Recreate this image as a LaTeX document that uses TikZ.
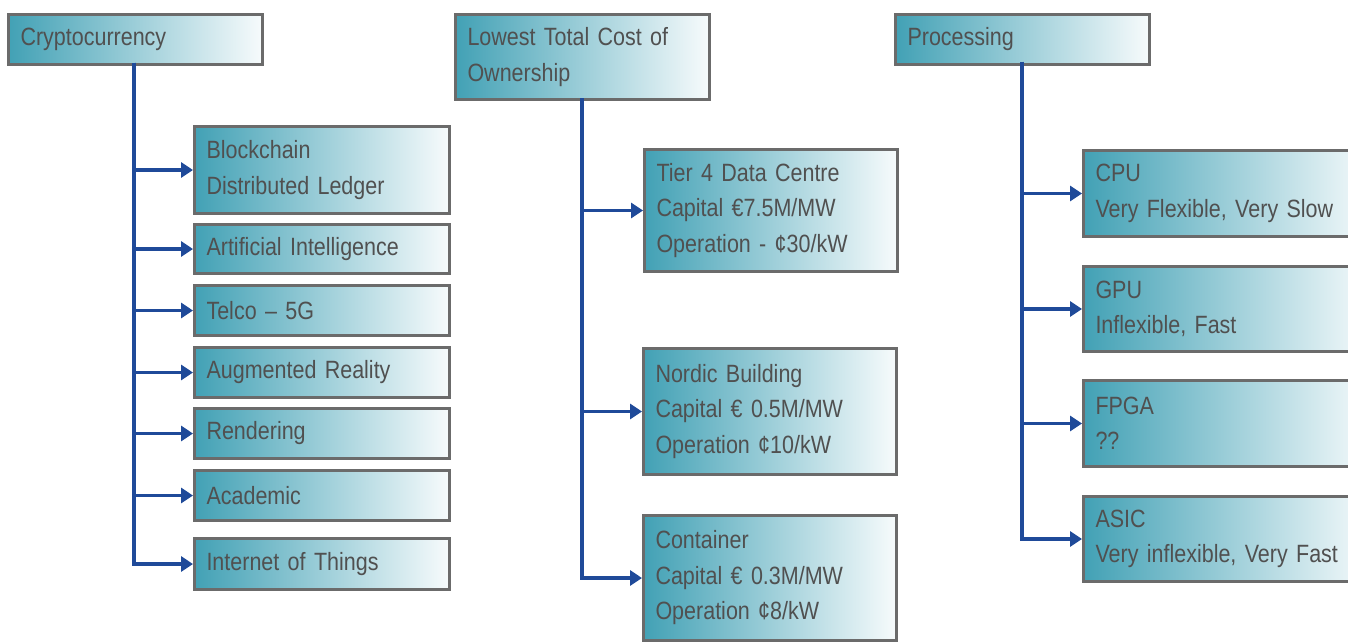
\documentclass[tikz,border=0pt]{standalone}
\usepackage{fontspec}
\setmainfont{Liberation Sans}[FakeStretch=0.86]
\usetikzlibrary{arrows.meta}
\definecolor{teal1}{HTML}{42A1B5}
\definecolor{light1}{HTML}{F7FBFC}
\definecolor{bord}{HTML}{6B6B6B}
\definecolor{txt}{HTML}{505050}
\definecolor{arrblue}{HTML}{1F4A99}
\begin{document}
\begin{tikzpicture}[x=1pt,y=-1pt,
  bx/.style={draw=bord, line width=3pt, left color=teal1, right color=light1,
    anchor=north west, inner xsep=12pt, inner ysep=0pt, align=left,
    text=txt, font=\fontsize{25}{35.5}\selectfont},
  arr/.style={draw=arrblue, line width=3.2pt,
    -{Triangle[length=12pt,width=15pt]}}]
\useasboundingbox (0,0) rectangle (1348,642);
\clip (0,0) rectangle (1348,642);
\fill[white] (0,0) rectangle (1348,642);
% column 1
\node[bx, minimum width=254pt, minimum height=50pt, text width=230pt] (crypto) at (7,13) {Cryptocurrency};
\node[bx, minimum width=255pt, minimum height=87pt, text width=231pt] (blk) at (193,125) {Blockchain\\Distributed Ledger};
\node[bx, minimum width=255pt, minimum height=49pt, text width=231pt] (ai) at (193,223) {Artificial Intelligence};
\node[bx, minimum width=255pt, minimum height=50pt, text width=231pt] (telco) at (193,284) {Telco – 5G};
\node[bx, minimum width=255pt, minimum height=50pt, text width=231pt] (ar) at (193,346) {Augmented Reality};
\node[bx, minimum width=255pt, minimum height=50pt, text width=231pt] (rend) at (193,407) {Rendering};
\node[bx, minimum width=255pt, minimum height=50pt, text width=231pt] (acad) at (193,469) {Academic};
\node[bx, minimum width=255pt, minimum height=51pt, text width=231pt] (iot) at (193,537) {Internet of Things};
% column 2
\node[bx, minimum width=254pt, minimum height=85pt, text width=230pt] (tco) at (454,13) {Lowest Total Cost of\\Ownership};
\node[bx, minimum width=253pt, minimum height=122pt, text width=229pt] (tier) at (643,148) {Tier 4 Data Centre\\Capital €7.5M/MW\\Operation - ¢30/kW};
\node[bx, minimum width=253pt, minimum height=126pt, text width=229pt] (nordic) at (642,347) {Nordic Building\\Capital € 0.5M/MW\\Operation ¢10/kW};
\node[bx, minimum width=253pt, minimum height=125pt, text width=229pt] (cont) at (642,514) {Container\\Capital € 0.3M/MW\\Operation ¢8/kW};
% column 3
\node[bx, minimum width=254pt, minimum height=50pt, text width=230pt] (proc) at (894,13) {Processing};
\node[bx, minimum width=290pt, minimum height=86pt, text width=266pt] (cpu) at (1082,149) {CPU\\Very Flexible, Very Slow};
\node[bx, minimum width=290pt, minimum height=85pt, text width=266pt] (gpu) at (1082,265) {GPU\\Inflexible, Fast};
\node[bx, minimum width=290pt, minimum height=86pt, text width=266pt] (fpga) at (1082,379) {FPGA\\??};
\node[bx, minimum width=290pt, minimum height=85pt, text width=266pt] (asic) at (1082,495) {ASIC\\Very inflexible, Very Fast};
% trunks
\coordinate (t1) at (134,63);
\coordinate (t2) at (582,98);
\coordinate (t3) at (1022,62);
\foreach \c in {blk,ai,telco,ar,rend,acad,iot} \draw[arr] (t1) |- (\c.west);
\foreach \c in {tier,nordic,cont} \draw[arr] (t2) |- (\c.west);
\foreach \c in {cpu,gpu,fpga,asic} \draw[arr] (t3) |- (\c.west);
\end{tikzpicture}
\end{document}
